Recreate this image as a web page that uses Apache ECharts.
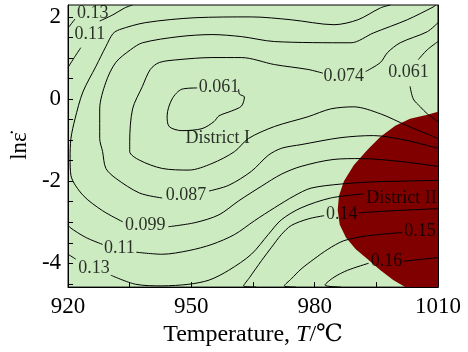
<!DOCTYPE html>
<html>
<head>
<meta charset="utf-8">
<script src="https://cdn.jsdelivr.net/npm/echarts@6/dist/echarts.min.js"></script>
<style>
  html, body { margin: 0; padding: 0; background: #fff; }
  #main { width: 468px; height: 352px; }
</style>
</head>
<body>
<div id="main"></div>
<script>
// axis ticks
const xLabels = [920, 950, 980, 1010]
const xTicks = [920, 935, 950, 965, 980, 995, 1010]
const yLabels = [-4, -2, 0, 2]
const yTicks = [-4.5, -4, -3.5, -3, -2.5, -2, -1.5, -1, -0.5, 0, 0.5, 1, 1.5, 2]

// District II (dark red) boundary, [T, lnε]
const regionT = [1010, 1007.4, 1003.2, 999.6, 996.0, 992.9, 989.5, 987.1, 985.9, 985.6, 986.1, 987.6, 990.0, 992.9, 996.0, 999.1, 1002.0, 1010]
const regionLn = [-0.31, -0.38, -0.48, -0.65, -0.92, -1.23, -1.61, -2.00, -2.36, -2.70, -3.06, -3.37, -3.66, -3.90, -4.17, -4.41, -4.58, -4.58]

// contour lines, split where the labels sit
const c061loop = [[961.5, 0.24], [961.7, 0.12], [962.9, 0.05], [962.2, -0.17], [959.8, -0.29], [956.7, -0.41], [955.5, -0.55], [952.6, -0.72], [947.7, -0.77], [944.6, -0.67], [944.1, -0.41], [945.3, 0], [947.7, 0.24], [951.4, 0.27]]
const c061rightA = [[1010, 1.40], [1007.4, 1.20], [1005.2, 0.96]]
const c061rightB = [[1003.2, 0.31], [1004.0, 0], [1005.7, -0.19], [1007.4, -0.36], [1010, -0.55]]
const c074a = [[1010, 1.86], [1007.4, 1.64], [1000.8, 1.37], [997.7, 1.13], [996.0, 0.89], [992.4, 0.67]]
const c074b = [[982.0, 0.63], [978.4, 0.72], [970.2, 0.84], [962.2, 1.01], [955.0, 1.01], [947.0, 0.96], [942.2, 0.89], [940.0, 0.72], [938.1, 0.31], [935.7, -0.24], [935.0, -1.04], [935.0, -1.28], [937.4, -1.49], [942.9, -1.69], [949.4, -1.73], [955.0, -1.57], [960.5, -1.28], [963.9, -0.96], [970.2, -0.67], [978.4, -0.43], [983.9, -0.24], [989.5, -0.19], [996.0, -0.36], [1002.5, -0.65], [1010, -0.96]]
const c087a = [[1009.5, 2.29], [1008.8, 2.24], [1002.5, 1.93], [994.3, 1.61], [988.8, 1.37], [970.2, 1.40], [962.2, 1.52], [955.0, 1.57], [947.0, 1.52], [938.1, 1.37], [935.2, 1.20], [931.6, 0.89], [929.2, 0.41], [927.7, -0.24], [927.7, -0.96], [928.4, -1.28], [929.2, -1.69], [931.6, -1.93], [937.4, -2.29], [942.9, -2.41]]
const c087b = [[954.3, -2.24], [959.1, -2.10], [964.6, -1.76], [968.7, -1.37], [971.9, -1.20], [976.7, -1.11], [986.4, -0.94], [994.3, -0.89], [1002.5, -1.01], [1010, -1.20]]
const c099a = [[998.4, 2.29], [996.0, 2.22], [990.5, 1.93], [984.7, 1.81], [974.3, 1.93], [964.6, 2.00], [950.9, 1.98], [938.8, 1.86], [932.5, 1.69], [930.9, 1.59], [929.2, 1.28], [926.8, 0.80], [923.6, 0.17], [921.7, -0.48], [920.7, -0.96], [920.5, -1.45], [920.7, -1.86], [923.6, -2.34], [928.4, -2.72], [933.3, -2.99]]
const c099b = [[944.4, -3.11], [950.9, -3.01], [956.7, -2.82], [961.5, -2.48], [967.1, -2.12], [971.9, -1.83], [976.7, -1.64], [984.7, -1.47], [991.2, -1.45], [1000.8, -1.52], [1010, -1.64]]
const c11top = [[920, 0.77], [921.7, 1.04], [923.1, 1.25]]
const c11a = [[920, -3.06], [920.5, -3.13], [924.3, -3.37], [928.4, -3.54]]
const c11b = [[936.6, -3.73], [942.9, -3.78], [949.4, -3.69], [955.0, -3.54], [960.5, -3.30], [965.4, -2.96], [970.2, -2.65], [975.0, -2.36], [979.1, -2.17], [986.4, -2.07], [993.6, -2.02], [1000.8, -2.00], [1010, -1.98]]
const c13topA = [[920, 1.73], [921.7, 1.95]]
const c13topB = [[927.7, 1.90], [930.9, 2.05], [933.8, 2.22], [935.7, 2.29]]
const c13a = [[920, -3.78], [921.9, -3.90]]
const c13b = [[930.4, -4.29], [936.4, -4.51], [942.9, -4.55], [949.4, -4.51], [954.3, -4.41], [959.1, -4.17], [964.6, -3.78], [968.7, -3.30], [971.9, -2.94], [976.7, -2.65], [983.9, -2.41], [991.9, -2.31]]
const c14a = [[965.8, -4.58], [962.7, -4.55], [964.2, -4.34], [967.1, -3.93], [969.5, -3.61], [971.9, -3.30], [974.3, -3.08], [978.4, -2.92], [982.3, -2.84]]
const c14b = [[990.7, -2.77], [999.1, -2.72], [1010, -2.67]]
const c15a = [[975.5, -4.58], [972.6, -4.55], [974.3, -4.38], [976.7, -4.14], [979.8, -3.90], [983.2, -3.66], [987.1, -3.45], [992.9, -3.33], [1001.3, -3.25]]
const c16a = [[986.4, -4.58], [982.5, -4.53], [984.7, -4.34], [988.0, -4.17], [993.1, -4.00]]
const c16b = [[1001.6, -3.95], [1010, -3.86]]

const contourSegments = [c061loop, c061rightA, c061rightB, c074a, c074b, c087a, c087b, c099a, c099b,
  c11top, c11a, c11b, c13topA, c13topB, c13a, c13b, c14a, c14b, c15a, c16a, c16b]

// label positions [T, lnε, text]
const contourLabels = [
  [956.7, 0.29, '0.061'],
  [1002.8, 0.65, '0.061'],
  [987.1, 0.55, '0.074'],
  [948.7, -2.34, '0.087'],
  [938.8, -3.08, '0.099'],
  [925.3, 1.57, '0.11'],
  [932.5, -3.64, '0.11'],
  [926.0, 2.10, '0.13'],
  [926.3, -4.12, '0.13'],
  [986.6, -2.80, '0.14'],
  [1005.6, -3.23, '0.15'],
  [997.5, -3.95, '0.16']
]
const districtLabels = [
  [956.4, -0.96, 'District I'],
  [1001.1, -2.41, 'District II']
]

const serif = 'Liberation Serif, Times New Roman, DejaVu Serif, serif'
const chart = echarts.init(document.getElementById('main'), null, { renderer: 'canvas' })

const lineSeries = contourSegments.map(seg => ({
  type: 'line',
  data: seg,
  smooth: 0.3,
  symbol: 'none',
  silent: true,
  z: 3,
  lineStyle: { color: '#000', width: 1 }
}))

const option = {
  animation: false,
  grid: {
    left: 65,
    right: 30,
    top: 5,
    bottom: 62,
    show: true,
    backgroundColor: '#cdebc0',
    borderColor: '#000',
    borderWidth: 1
  },
  xAxis: [{
    type: 'value',
    min: 920,
    max: 1010,
    z: 10,
    name: 'Temperature, {i|T}/℃',
    nameLocation: 'middle',
    nameGap: 29,
    nameTextStyle: {
      fontFamily: serif,
      fontSize: 24,
      color: '#000',
      rich: { i: { fontFamily: serif, fontSize: 24, fontStyle: 'italic', color: '#000' } }
    },
    axisLine: { show: true, onZero: false, lineStyle: { color: '#000', width: 1 } },
    axisTick: { show: true, inside: true, length: 5, customValues: xTicks, lineStyle: { color: '#000' } },
    axisLabel: { customValues: xLabels, formatter: v => String(v), margin: 8, fontFamily: serif, fontSize: 23, color: '#000' },
    splitLine: { show: false }
  }],
  yAxis: [{
    type: 'value',
    min: -4.58,
    max: 2.29,
    z: 10,
    name: 'lnε̇',
    nameLocation: 'middle',
    nameRotate: 90,
    nameGap: 25,
    nameTextStyle: { fontFamily: serif, fontSize: 23, color: '#000' },
    axisLine: { show: true, onZero: false, lineStyle: { color: '#000', width: 1 } },
    axisTick: { show: true, inside: true, length: 5, customValues: yTicks, lineStyle: { color: '#000' } },
    axisLabel: { customValues: yLabels, formatter: v => String(v), margin: 7, fontFamily: serif, fontSize: 23, color: '#000' },
    splitLine: { show: false }
  }, {
    type: 'value',
    position: 'right',
    min: -4.58,
    max: 2.29,
    z: 10,
    axisLine: { show: true, onZero: false, lineStyle: { color: '#000', width: 1 } },
    axisTick: { show: false },
    axisLabel: { show: false },
    splitLine: { show: false }
  }],
  series: [
    {
      type: 'custom',
      silent: true,
      z: 2,
      data: [[regionT[0], regionLn[0]]],
      renderItem: (params, api) => ({
        type: 'polygon',
        shape: { points: regionT.map((t, i) => api.coord([t, regionLn[i]])) },
        style: { fill: '#800000' }
      })
    },
    ...lineSeries,
    {
      type: 'scatter',
      silent: true,
      z: 5,
      symbolSize: 0,
      data: contourLabels.concat(districtLabels),
      label: {
        show: true,
        position: 'inside',
        formatter: p => p.data[2],
        fontFamily: serif,
        fontSize: 18,
        color: '#000'
      }
    }
  ]
}
chart.setOption(option)
</script>
</body>
</html>
